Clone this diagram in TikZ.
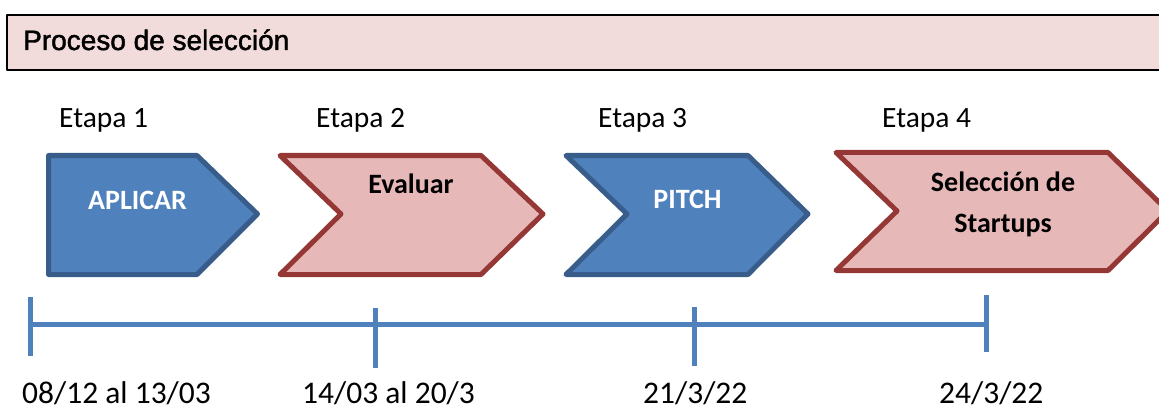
\documentclass[tikz,border=0pt]{standalone}
\usepackage{fontspec}
\setmainfont{Carlito}
\newfontfamily\titlefont[FakeBold=1.6]{Liberation Sans}
\definecolor{stageblue}{HTML}{4F81BD}
\definecolor{stagebluedark}{HTML}{385D8A}
\definecolor{stagepink}{HTML}{E6B9B8}
\definecolor{stagepinkdark}{HTML}{953735}
\definecolor{headpink}{HTML}{F2DCDB}
\tikzset{
	bluestage/.style={fill=stageblue, draw=stagebluedark, line width=5pt},
	pinkstage/.style={fill=stagepink, draw=stagepinkdark, line width=5pt},
	stagelabel/.style={anchor=base, font=\fontsize{28}{41}\selectfont\bfseries, align=center},
	etapalabel/.style={anchor=base west, font=\fontsize{29.5}{34}\selectfont},
	datelabel/.style={anchor=base west, font=\fontsize{31.5}{36}\selectfont},
	timeline/.style={draw=stageblue, line width=5pt}
}
\begin{document}
\begin{tikzpicture}[x=1pt, y=-1pt, line join=round]
	\useasboundingbox (0,0) rectangle (1159,409);
	\draw[fill=headpink, line width=2.2pt] (7,15) rectangle (1175,70);
	\node[anchor=base west, inner sep=0pt, font=\titlefont\fontsize{28}{32}\selectfont] (titulo) at (23,50) {Proceso de selección};
	\node[etapalabel, inner sep=0pt] (etapa1) at (59,128) {Etapa 1};
	\node[etapalabel, inner sep=0pt] (etapa2) at (316,128) {Etapa 2};
	\node[etapalabel, inner sep=0pt] (etapa3) at (598,128) {Etapa 3};
	\node[etapalabel, inner sep=0pt] (etapa4) at (882,128) {Etapa 4};
	\draw[bluestage] (48.5,155.5) -- (197,155.5) -- (257.5,214) -- (197,274.5) -- (48.5,274.5) -- cycle;
	\draw[pinkstage] (280,155.5) -- (481,155.5) -- (543,214) -- (481,274.5) -- (280,274.5) -- (341,214) -- cycle;
	\draw[bluestage] (566,155.5) -- (748,155.5) -- (808,214) -- (748,274.5) -- (566,274.5) -- (627,214) -- cycle;
	\draw[pinkstage] (836,152.5) -- (1108,152.5) -- (1168,211) -- (1108,270.5) -- (836,270.5) -- (897,211) -- cycle;
	\node[stagelabel, text=white] (aplicar) at (137.5,209) {APLICAR};
	\node[stagelabel] (evaluar) at (411,193) {Evaluar};
	\node[stagelabel, text=white] (pitch) at (687.5,208) {PITCH};
	\node[stagelabel] (seleccion) at (1003,232) {Selección de\\Startups};
	\coordinate (d1) at (30,324);
	\coordinate (d2) at (375,324);
	\coordinate (d3) at (694,324);
	\coordinate (d4) at (986,324);
	\draw[timeline] (d1) -- (d4);
	\draw[timeline] (d1) ++(0,-27) -- ++(0,59);
	\draw[timeline] (d2) ++(0,-16) -- ++(0,60);
	\draw[timeline] (d3) ++(0,-17) -- ++(0,59);
	\draw[timeline] (d4) ++(0,-29) -- ++(0,57);
	\node[datelabel, inner sep=0pt] (fecha1) at (22,403) {08/12 al 13/03};
	\node[datelabel, inner sep=0pt] (fecha2) at (302,403) {14/03 al 20/3};
	\node[datelabel, inner sep=0pt] (fecha3) at (643,403) {21/3/22};
	\node[datelabel, inner sep=0pt] (fecha4) at (939,403) {24/3/22};
\end{tikzpicture}
\end{document}
